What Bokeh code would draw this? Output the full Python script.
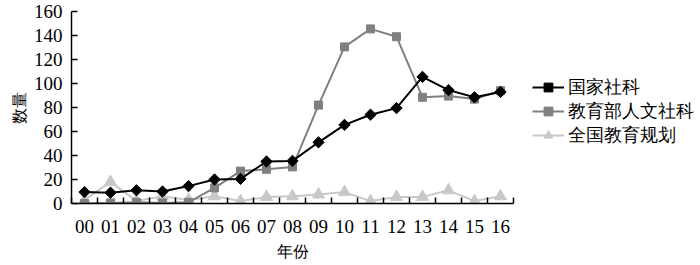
import math
from bokeh.plotting import figure
from bokeh.models import FixedTicker, Legend, LegendItem, Range1d
from bokeh.embed import file_html
from bokeh.resources import INLINE

years = ["00", "01", "02", "03", "04", "05", "06", "07", "08", "09", "10",
         "11", "12", "13", "14", "15", "16"]
guojia = [9.5, 9, 11, 10, 14.5, 20, 20.5, 35, 35.5, 51, 65.5, 74, 79.5, 105.5, 94.5, 88.5, 93]
jiaoyubu = [0, 0.5, 1, 0.5, 1, 13, 27, 28.5, 30.5, 82, 130.5, 145.5, 139, 88.5, 89.5, 87, 94]
quanguo = [3, 18, 2, 6, 3, 6, 2, 5.5, 6, 7.5, 9.5, 2, 5.5, 5.5, 11, 2, 6]
series_names = ["国家社科", "教育部人文社科", "全国教育规划"]
y_ticks = [0, 20, 40, 60, 80, 100, 120, 140, 160]

xs = list(range(len(years)))
serif = "Liberation Serif"

p = figure(width=684, height=262, frame_width=442, frame_height=192,
           output_backend="svg", toolbar_location=None,
           x_range=Range1d(-0.5, len(years) - 0.5), y_range=Range1d(0, 160),
           min_border_left=71, min_border_right=171, min_border_top=11, min_border_bottom=59)
p.background_fill_color = "white"
p.border_fill_color = "white"
p.outline_line_color = None
p.grid.visible = False

# x axis: labels at centres, ticks between categories
p.xaxis.ticker = FixedTicker(ticks=xs, minor_ticks=[i - 0.5 for i in range(len(years) + 1)])
p.xaxis.major_label_overrides = {i: y for i, y in enumerate(years)}
p.xaxis.major_tick_in = 0
p.xaxis.major_tick_out = 0
p.xaxis.minor_tick_in = 6
p.xaxis.minor_tick_out = 0
p.xaxis.major_label_standoff = 16
p.xaxis.axis_label = "年份"
p.xaxis.axis_label_standoff = 7

p.yaxis.ticker = FixedTicker(ticks=y_ticks)
p.yaxis.major_tick_in = 6
p.yaxis.major_tick_out = 0
p.yaxis.minor_tick_in = 0
p.yaxis.minor_tick_out = 0
p.yaxis.major_label_standoff = 9
p.yaxis.axis_label = "数量"
p.yaxis.axis_label_standoff = 3

for ax in (p.xaxis, p.yaxis):
    ax.axis_line_color = "black"
    ax.axis_line_width = 1.5
    ax.major_tick_line_color = "black"
    ax.minor_tick_line_color = "black"
    ax.major_tick_line_width = 1.5
    ax.minor_tick_line_width = 1.5
    ax.major_label_text_font = serif
    ax.major_label_text_font_size = "19px"
    ax.major_label_text_color = "black"
    ax.axis_label_text_font = serif
    ax.axis_label_text_font_size = "16px"
    ax.axis_label_text_font_style = "normal"
    ax.axis_label_text_color = "black"

c_light = "#c8c8c8"
c_gray = "#808080"
c_black = "#000000"

l3 = p.line(xs, quanguo, line_color=c_light, line_width=2)
m3 = p.scatter(xs, quanguo, marker="triangle", size=12, fill_color=c_light, line_color=c_light)
l2 = p.line(xs, jiaoyubu, line_color=c_gray, line_width=2)
m2 = p.scatter(xs, jiaoyubu, marker="square", size=8, fill_color=c_gray, line_color=c_gray)
l1 = p.line(xs, guojia, line_color=c_black, line_width=2)
m1 = p.scatter(xs, guojia, marker="square", angle=math.pi / 4, size=8,
               fill_color=c_black, line_color=c_black)

legend = Legend(items=[
    LegendItem(label=series_names[0], renderers=[l1, m1]),
    LegendItem(label=series_names[1], renderers=[l2, m2]),
    LegendItem(label=series_names[2], renderers=[l3, m3]),
], location=(19, 56))
legend.border_line_color = None
legend.background_fill_alpha = 0
legend.padding = 0
legend.margin = 0
legend.spacing = 0
legend.glyph_width = 32
legend.glyph_height = 22
legend.label_height = 22
legend.label_standoff = 4
legend.label_text_font = serif
legend.label_text_font_size = "18px"
legend.label_text_color = "black"
p.add_layout(legend, "right")

open("out.html", "w").write(file_html(p, INLINE))
